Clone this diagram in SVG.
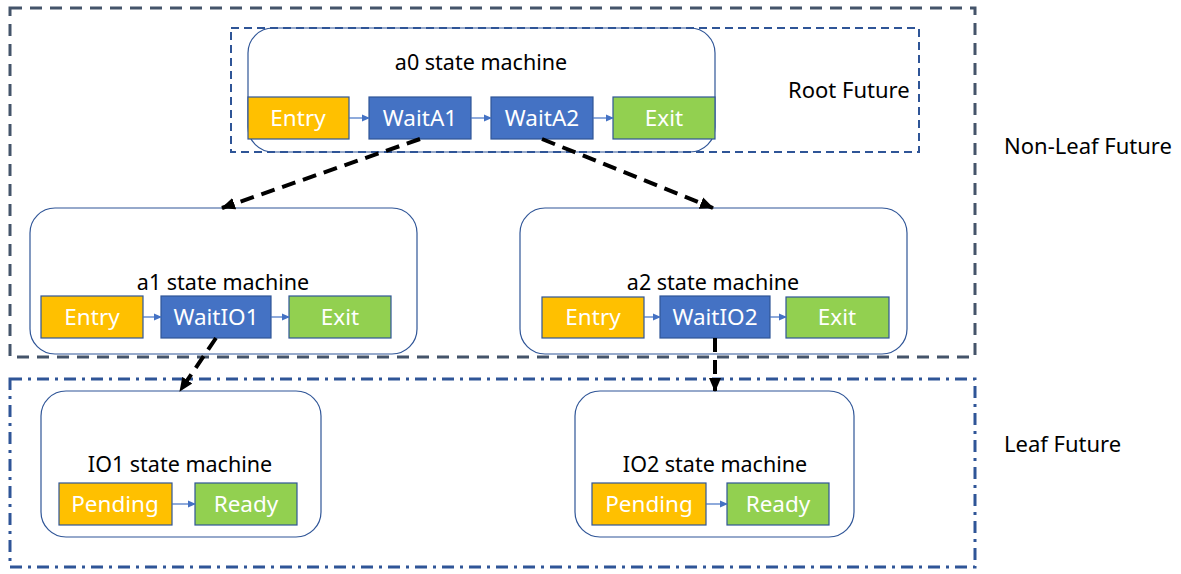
<svg xmlns="http://www.w3.org/2000/svg" width="1181" height="574" viewBox="0 0 1181 574">
<style>
text{font-family:"Noto Sans","Open Sans","Liberation Sans",sans-serif;}
.t{font-size:21.5px;fill:#000;text-anchor:middle;}
.lbl{font-size:22px;fill:#000;}
.s{font-size:22.5px;fill:#fff;text-anchor:middle;}
.sm{fill:#fff;stroke:#2F5597;stroke-width:1.2;}
.y{fill:#FFC000;stroke:#2F5597;stroke-width:1.2;}
.b{fill:#4472C4;stroke:#2F5597;stroke-width:1.2;}
.g{fill:#92D050;stroke:#2F5597;stroke-width:1.2;}
.ba{stroke:#4472C4;stroke-width:1.2;fill:none;marker-end:url(#ab);}
.da{stroke:#000;stroke-width:4;stroke-dasharray:14 8;fill:none;marker-end:url(#ak);}
</style>
<defs>
<marker id="ab" markerWidth="8" markerHeight="8" refX="7" refY="4" orient="auto" markerUnits="userSpaceOnUse"><path d="M0,0.5 L8,4 L0,7.5 Z" fill="#4472C4"/></marker>
<marker id="ak" markerWidth="14" markerHeight="14" refX="13" refY="7" orient="auto" markerUnits="userSpaceOnUse"><path d="M0,1 L14,7 L0,13 Z" fill="#000"/></marker>
</defs>
<rect width="1181" height="574" fill="#fff"/>
<g id="nonleaf-frame">
<rect x="10" y="8" width="965" height="349" fill="none" stroke="#44546A" stroke-width="3" stroke-dasharray="12 8"/>
<text class="lbl" x="1004" y="154">Non-Leaf Future</text>
</g>
<g id="leaf-frame">
<rect x="10" y="379" width="965" height="188" fill="none" stroke="#2F5597" stroke-width="3" stroke-dasharray="12 6 3 6"/>
<text class="lbl" x="1004" y="452">Leaf Future</text>
</g>
<g id="a0">
<rect class="sm" x="248" y="28" width="467" height="124" rx="25"/>
<text class="t" x="481" y="70">a0 state machine</text>
<rect class="y" x="248" y="97" width="101" height="42"/><text class="s" x="298" y="126">Entry</text>
<rect class="b" x="369" y="97" width="102" height="42"/><text class="s" x="420" y="126">WaitA1</text>
<rect class="b" x="491" y="97" width="102" height="42"/><text class="s" x="542" y="126">WaitA2</text>
<rect class="g" x="613" y="97" width="102" height="42"/><text class="s" x="664" y="126">Exit</text>
</g>
<g id="root-frame">
<rect x="231" y="28" width="688" height="124" fill="none" stroke="#2F5597" stroke-width="2" stroke-dasharray="8 5"/>
<text class="lbl" x="788" y="98">Root Future</text>
</g>
<g id="a1">
<rect class="sm" x="30" y="208" width="387" height="146" rx="25"/>
<text class="t" x="223" y="290">a1 state machine</text>
<rect class="y" x="41" y="296" width="102" height="42"/><text class="s" x="92" y="325">Entry</text>
<rect class="b" x="161" y="296" width="110" height="42"/><text class="s" x="216" y="325">WaitIO1</text>
<rect class="g" x="289" y="296" width="102" height="42"/><text class="s" x="340" y="325">Exit</text>
</g>
<g id="a2">
<rect class="sm" x="520" y="208" width="387" height="146" rx="25"/>
<text class="t" x="713" y="290">a2 state machine</text>
<rect class="y" x="542" y="297" width="102" height="41"/><text class="s" x="593" y="325">Entry</text>
<rect class="b" x="660" y="296" width="110" height="42"/><text class="s" x="715" y="325">WaitIO2</text>
<rect class="g" x="786" y="297" width="103" height="41"/><text class="s" x="837" y="325">Exit</text>
</g>
<g id="io1">
<rect class="sm" x="41" y="391" width="280" height="146" rx="25"/>
<text class="t" x="180" y="472">IO1 state machine</text>
<rect class="y" x="59" y="483" width="113" height="42"/><text class="s" x="115" y="512">Pending</text>
<rect class="g" x="195" y="483" width="102" height="42"/><text class="s" x="246" y="512">Ready</text>
</g>
<g id="io2">
<rect class="sm" x="575" y="391" width="279" height="146" rx="25"/>
<text class="t" x="715" y="472">IO2 state machine</text>
<rect class="y" x="592" y="483" width="114" height="42"/><text class="s" x="649" y="512">Pending</text>
<rect class="g" x="727" y="483" width="102" height="42"/><text class="s" x="778" y="512">Ready</text>
</g>
<g id="connectors">
<line class="ba" x1="349" y1="118" x2="369" y2="118"/>
<line class="ba" x1="471" y1="118" x2="491" y2="118"/>
<line class="ba" x1="593" y1="118" x2="613" y2="118"/>
<line class="ba" x1="143" y1="317" x2="161" y2="317"/>
<line class="ba" x1="271" y1="317" x2="289" y2="317"/>
<line class="ba" x1="644" y1="317" x2="660" y2="317"/>
<line class="ba" x1="770" y1="317" x2="786" y2="317"/>
<line class="ba" x1="172" y1="504" x2="195" y2="504"/>
<line class="ba" x1="706" y1="504" x2="727" y2="504"/>
<line class="da" x1="420" y1="139" x2="222" y2="208"/>
<line class="da" x1="542" y1="139" x2="713" y2="208"/>
<line class="da" x1="216" y1="338" x2="180" y2="391"/>
<line class="da" x1="715" y1="338" x2="715" y2="391"/>
</g>
</svg>
